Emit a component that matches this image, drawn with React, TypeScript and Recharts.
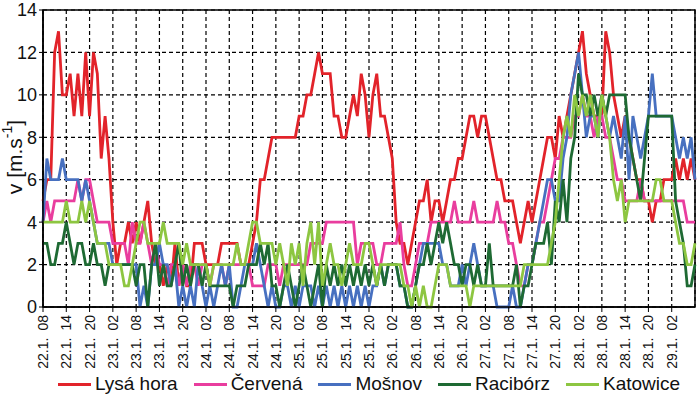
import React from 'react';
import { LineChart, Line, XAxis, YAxis, CartesianGrid, Legend, ReferenceArea } from 'recharts';

// Hourly wind speed [m/s], 22.1. 08:00 to 29.1. 08:00 (169 values each)
const lysaHora = [
  5,6,6,12,13,10,10,11,9,11,
  9,12,9,12,11,7,9,7,4,2,
  3,3,4,3,4,3,4,5,3,2,
  2,1,2,1,3,1,2,1,1,3,
  3,3,2,2,2,2,3,3,3,3,
  3,2,2,2,3,4,6,6,7,8,
  8,8,8,8,8,8,9,9,10,10,
  11,12,11,11,11,9,9,8,8,9,
  10,9,11,10,8,10,11,9,9,8,
  7,4,3,3,2,3,4,5,5,6,
  4,5,5,4,5,6,6,7,7,8,
  9,9,8,9,9,8,7,6,6,5,
  5,5,4,3,4,5,4,5,6,7,
  8,8,7,9,8,9,10,11,12,13,
  11,10,9,9,9,13,12,10,9,8,
  9,8,7,6,6,5,5,4,5,5,
  6,6,6,7,6,7,6,7,6,
];
const cervena = [
  4,5,4,5,5,5,5,5,5,6,
  5,6,6,5,4,4,4,4,3,3,
  3,3,2,4,3,3,4,3,2,3,
  2,2,1,2,2,1,2,1,2,2,
  1,2,2,1,2,2,2,1,2,2,
  2,2,2,2,1,1,1,1,2,2,
  2,1,2,2,2,2,2,2,2,3,
  3,3,3,4,4,4,4,4,4,4,
  4,2,3,3,3,3,2,2,3,3,
  3,3,4,2,1,1,2,3,3,3,
  4,4,4,4,4,4,5,4,4,4,
  4,5,4,4,4,4,4,5,4,4,
  3,3,2,1,1,2,2,3,4,4,
  5,6,7,7,8,8,8,9,9,10,
  9,9,8,9,9,8,8,7,6,6,
  5,5,5,5,6,5,5,5,5,5,
  5,5,5,5,5,5,4,4,4,
];
const mosnov = [
  4,7,6,6,6,7,6,6,6,6,
  5,6,5,4,3,3,3,3,2,2,
  2,2,2,2,2,0,1,0,2,2,
  3,2,2,1,2,0,1,0,1,0,
  2,1,0,1,0,1,2,1,2,0,
  0,1,2,2,2,3,2,1,0,1,
  0,0,1,1,0,1,0,1,1,1,
  0,1,0,1,0,1,0,1,0,1,
  0,1,0,1,0,1,1,2,1,2,
  2,2,1,1,0,0,1,2,3,3,
  3,3,3,2,2,1,1,1,2,1,
  2,3,2,1,1,1,1,0,0,0,
  0,1,0,0,1,2,2,3,4,5,
  6,6,5,5,7,8,10,11,12,10,
  8,9,9,8,10,9,8,9,8,7,
  9,6,9,8,7,8,9,11,9,9,
  9,9,9,8,7,8,7,8,6,
];
const raciborz = [
  3,3,2,2,3,3,4,3,2,3,
  3,2,2,3,2,2,1,2,2,2,
  2,2,2,2,1,2,2,0,2,3,
  1,2,1,1,2,3,1,2,1,2,
  2,1,2,1,1,1,1,1,1,0,
  1,1,1,2,2,2,3,2,3,1,
  1,0,1,2,1,0,1,2,1,0,
  1,2,0,2,1,2,1,2,1,2,
  1,2,1,2,1,2,1,2,1,2,
  2,2,1,1,0,0,1,2,2,3,
  2,3,4,3,4,3,2,2,1,2,
  2,1,2,1,1,3,1,1,1,1,
  1,1,2,0,1,1,2,3,3,3,
  4,2,5,4,6,4,7,8,11,10,
  10,9,10,9,10,9,10,10,10,10,
  10,8,7,6,5,7,9,9,9,9,
  9,9,9,5,4,3,1,1,2,
];
const katowice = [
  4,4,4,4,4,4,5,4,4,4,
  5,4,5,4,3,3,3,2,2,2,
  2,1,1,2,3,4,4,3,3,3,
  3,4,3,3,3,3,2,3,2,2,
  2,2,2,1,2,2,2,2,2,2,
  3,2,2,3,4,4,3,3,3,3,
  2,3,2,1,3,2,3,1,3,4,
  2,4,1,2,3,2,2,1,2,3,
  2,2,2,3,3,2,1,2,2,2,
  2,2,2,1,1,0,1,0,1,0,
  0,1,2,2,2,1,1,1,1,1,
  0,1,1,1,1,1,1,1,1,1,
  1,1,1,1,2,2,2,2,2,2,
  2,3,4,6,8,9,8,10,9,10,
  9,10,9,8,10,9,8,6,5,6,
  4,5,5,5,5,5,5,5,6,6,
  5,5,5,4,3,3,2,2,3,
];

const tickDates = [
  '22.1.', '22.1.', '22.1.', '23.1.', '23.1.', '23.1.', '23.1.',
  '24.1.', '24.1.', '24.1.', '24.1.', '25.1.', '25.1.', '25.1.',
  '25.1.', '26.1.', '26.1.', '26.1.', '26.1.', '27.1.', '27.1.',
  '27.1.', '27.1.', '28.1.', '28.1.', '28.1.', '28.1.', '29.1.',
];
const tickHours = [
  '08', '14', '20', '02', '08', '14', '20',
  '02', '08', '14', '20', '02', '08', '14',
  '20', '02', '08', '14', '20', '02', '08',
  '14', '20', '02', '08', '14', '20', '02',
];
const HOURS_PER_TICK = 6;
const yTicks = [0, 2, 4, 6, 8, 10, 12, 14];

const seriesDefs = [
  { key: 'lysa', name: 'Lysá hora', values: lysaHora, color: '#E2232A' },
  { key: 'cervena', name: 'Červená', values: cervena, color: '#E93D9E' },
  { key: 'mosnov', name: 'Mošnov', values: mosnov, color: '#4770C0' },
  { key: 'raciborz', name: 'Racibórz', values: raciborz, color: '#1E6A33' },
  { key: 'katowice', name: 'Katowice', values: katowice, color: '#8DC641' },
];

const data = lysaHora.map((_, i) => {
  const row: Record<string, number> = { i };
  seriesDefs.forEach((s) => {
    row[s.key] = s.values[i];
  });
  return row;
});
const xTicks = tickDates.map((_, k) => k * HOURS_PER_TICK);
const lastIndex = lysaHora.length - 1;

const FONT = "'Liberation Sans', Arial, sans-serif";

const XTick = (props: any) => {
  const { x, y, payload } = props;
  const k = Math.round(payload.value / HOURS_PER_TICK);
  return (
    <g transform={`translate(${x},${y + 1})`}>
      <text
        transform="rotate(-90)"
        textAnchor="end"
        dominantBaseline="central"
        fontSize={14}
        fontFamily={FONT}
        fill="#111"
      >
        {tickDates[k]}
        <tspan dx={7}>{tickHours[k]}</tspan>
      </text>
    </g>
  );
};

const YLabel = () => (
  <text
    x={14}
    y={157}
    transform="rotate(-90 14 157)"
    textAnchor="middle"
    dominantBaseline="central"
    fontSize={21}
    fontFamily={FONT}
    fill="#111"
  >
    v [m.s
    <tspan dy={-7} fontSize={14}>-1</tspan>
    <tspan dy={7}>]</tspan>
  </text>
);

const LegendContent = () => (
  <div
    style={{
      display: 'flex',
      justifyContent: 'center',
      alignItems: 'center',
      height: 30,
      paddingLeft: 43,
      paddingRight: 2,
      boxSizing: 'border-box',
      fontFamily: FONT,
      fontSize: 19,
      color: '#111',
    }}
  >
    {seriesDefs.map((s) => (
      <div key={s.key} style={{ display: 'flex', alignItems: 'center', margin: '0 8px' }}>
        <div style={{ width: 33, height: 3, background: s.color, marginRight: 4 }} />
        <span>{s.name}</span>
      </div>
    ))}
  </div>
);

export default function App() {
  return (
    <div style={{ position: 'absolute', left: 0, top: 0, width: 697, height: 399, background: '#fff' }}>
      <LineChart
        width={697}
        height={399}
        data={data}
        margin={{ top: 10, right: 2, left: 0, bottom: 0 }}
      >
        <CartesianGrid stroke="#000" strokeDasharray="4 3" strokeWidth={1.2} />
        <XAxis
          type="number"
          dataKey="i"
          domain={[0, lastIndex]}
          ticks={xTicks}
          interval={0}
          height={62}
          tick={<XTick />}
          tickSize={5}
          tickLine={{ stroke: '#000' }}
          axisLine={{ stroke: '#000', strokeWidth: 1.5 }}
          allowDecimals={false}
        />
        <YAxis
          type="number"
          domain={[0, 14]}
          ticks={yTicks}
          interval={0}
          width={43}
          tickSize={4}
          tickMargin={2}
          tick={{ fontSize: 18, fontFamily: FONT, fill: '#111' }}
          tickLine={{ stroke: '#000' }}
          axisLine={{ stroke: '#000', strokeWidth: 1.5 }}
          label={{ content: <YLabel /> }}
        />
        <ReferenceArea
          x1={0}
          x2={lastIndex}
          y1={0}
          y2={14}
          fill="none"
          fillOpacity={0}
          stroke="#000"
          strokeWidth={1.5}
          ifOverflow="visible"
        />
        {seriesDefs.map((s) => (
          <Line
            key={s.key}
            type="linear"
            dataKey={s.key}
            name={s.name}
            stroke={s.color}
            strokeWidth={2.8}
            dot={false}
            isAnimationActive={false}
          />
        ))}
        <Legend verticalAlign="bottom" content={<LegendContent />} wrapperStyle={{ left: 0, width: 697 }} />
      </LineChart>
    </div>
  );
}
